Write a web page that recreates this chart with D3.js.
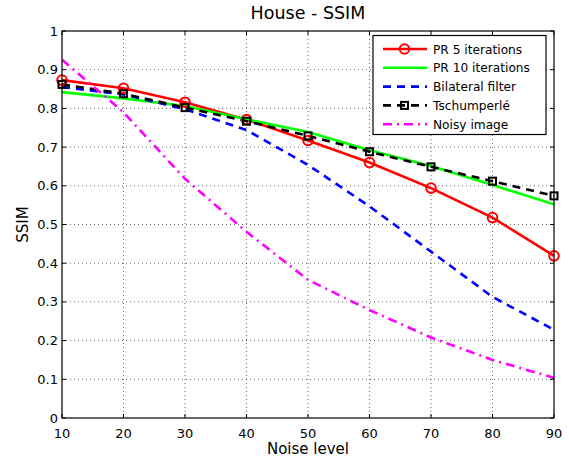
<!DOCTYPE html>
<html><head><meta charset="utf-8">
<script src="https://cdn.jsdelivr.net/npm/d3@7"></script>
<style>body{margin:0;background:#fff}svg{display:block}text{font-family:"DejaVu Sans",sans-serif}</style>
</head><body><svg id="c" width="569" height="463"></svg>
<script>
const noiseLevels = [10,20,30,40,50,60,70,80,90];
const pr5 = [0.873,0.852,0.816,0.771,0.717,0.660,0.594,0.518,0.419];
const pr10 = [0.842,0.826,0.806,0.772,0.739,0.692,0.651,0.602,0.552];
const bilateral = [0.855,0.836,0.798,0.744,0.654,0.547,0.430,0.313,0.228];
const tschumperle = [0.862,0.838,0.802,0.767,0.729,0.688,0.649,0.612,0.574];
const noisy = [0.926,0.790,0.618,0.481,0.357,0.279,0.208,0.150,0.104];
const xTicks = [10,20,30,40,50,60,70,80,90];
const yTicks = [0,0.1,0.2,0.3,0.4,0.5,0.6,0.7,0.8,0.9,1];
const yTickLabels = ["0","0.1","0.2","0.3","0.4","0.5","0.6","0.7","0.8","0.9","1"];
const seriesNames = ["PR 5 iterations","PR 10 iterations","Bilateral filter","Tschumperlé","Noisy image"];

const series = [
  {name:seriesNames[0], values:pr5, color:"#ff0000", dash:null, marker:"circle"},
  {name:seriesNames[1], values:pr10, color:"#00ff00", dash:null, marker:null},
  {name:seriesNames[2], values:bilateral, color:"#0000ff", dash:"8,6", marker:null},
  {name:seriesNames[3], values:tschumperle, color:"#000000", dash:"8,6", marker:"square"},
  {name:seriesNames[4], values:noisy, color:"#ff00ff", dash:"9,5,2,5", marker:null}
];

const L=62,R=554,T=31,B=418;
const svg=d3.select("#c");
const x=d3.scaleLinear().domain([10,90]).range([L,R]);
const y=d3.scaleLinear().domain([0,1]).range([B,T]);

const g=svg.append("g");
g.selectAll(".gx").data(xTicks.slice(1,-1)).join("line")
 .attr("x1",d=>x(d)).attr("x2",d=>x(d)).attr("y1",T).attr("y2",B)
 .attr("stroke","#000").attr("stroke-width",0.6).attr("stroke-dasharray","1,3");
g.selectAll(".gy").data(yTicks.slice(1,-1)).join("line")
 .attr("y1",d=>y(d)).attr("y2",d=>y(d)).attr("x1",L).attr("x2",R)
 .attr("stroke","#000").attr("stroke-width",0.6).attr("stroke-dasharray","1,3");

svg.append("clipPath").attr("id","clip").append("rect").attr("x",L).attr("y",T).attr("width",R-L).attr("height",B-T);

const line=d3.line().x((d,i)=>x(noiseLevels[i])).y(d=>y(d));
const plot=svg.append("g");
series.forEach(s=>{
  plot.append("path").attr("d",line(s.values)).attr("fill","none")
   .attr("stroke",s.color).attr("stroke-width",2.6)
   .attr("stroke-dasharray",s.dash).attr("clip-path","url(#clip)");
});
series.forEach(s=>{
  if(s.marker==="circle"){
    plot.selectAll(null).data(s.values).join("circle")
     .attr("cx",(d,i)=>x(noiseLevels[i])).attr("cy",d=>y(d)).attr("r",4.8)
     .attr("fill","none").attr("stroke",s.color).attr("stroke-width",2);
  } else if(s.marker==="square"){
    plot.selectAll(null).data(s.values).join("rect")
     .attr("x",(d,i)=>x(noiseLevels[i])-3.5).attr("y",d=>y(d)-3.5).attr("width",7).attr("height",7)
     .attr("fill","none").attr("stroke",s.color).attr("stroke-width",2);
  }
});

svg.append("rect").attr("x",L).attr("y",T).attr("width",R-L).attr("height",B-T)
 .attr("fill","none").attr("stroke","#000").attr("stroke-width",1.2);

const ax=svg.append("g");
xTicks.forEach(t=>{
  ax.append("line").attr("x1",x(t)).attr("x2",x(t)).attr("y1",B).attr("y2",B-4).attr("stroke","#000");
  ax.append("line").attr("x1",x(t)).attr("x2",x(t)).attr("y1",T).attr("y2",T+4).attr("stroke","#000");
  ax.append("text").attr("x",x(t)).attr("y",B+20).attr("text-anchor","middle").attr("font-size",13).text(t);
});
yTicks.forEach((t,i)=>{
  ax.append("line").attr("x1",L).attr("x2",L+4).attr("y1",y(t)).attr("y2",y(t)).attr("stroke","#000");
  ax.append("line").attr("x1",R).attr("x2",R-4).attr("y1",y(t)).attr("y2",y(t)).attr("stroke","#000");
  ax.append("text").attr("x",L-4).attr("y",y(t)+4.5).attr("text-anchor","end").attr("font-size",13).text(yTickLabels[i]);
});

svg.append("text").attr("x",(L+R)/2).attr("y",19).attr("text-anchor","middle").attr("font-size",17.5).text("House - SSIM");
svg.append("text").attr("x",(L+R)/2).attr("y",454).attr("text-anchor","middle").attr("font-size",15).text("Noise level");
svg.append("text").attr("transform",`translate(28,${(T+B)/2}) rotate(-90)`).attr("text-anchor","middle").attr("font-size",15).text("SSIM");

const lg=svg.append("g");
lg.append("rect").attr("x",373).attr("y",35.5).attr("width",173).attr("height",99)
 .attr("fill","#fff").attr("stroke","#000").attr("stroke-width",1.2);
series.forEach((s,i)=>{
  const yy=49+i*18.8;
  lg.append("line").attr("x1",383).attr("x2",427).attr("y1",yy).attr("y2",yy)
   .attr("stroke",s.color).attr("stroke-width",2.6).attr("stroke-dasharray",s.dash);
  if(s.marker==="circle") lg.append("circle").attr("cx",404.5).attr("cy",yy).attr("r",4.8).attr("fill","none").attr("stroke",s.color).attr("stroke-width",2);
  if(s.marker==="square") lg.append("rect").attr("x",401).attr("y",yy-3.5).attr("width",7).attr("height",7).attr("fill","none").attr("stroke",s.color).attr("stroke-width",2);
  lg.append("text").attr("x",433).attr("y",yy+4.5).attr("font-size",12.2).text(s.name);
});
</script></body></html>
